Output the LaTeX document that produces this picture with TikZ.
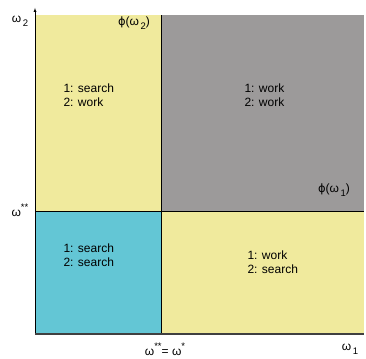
\documentclass[tikz,border=0pt]{standalone}
\usepackage{fontspec}
\setmainfont{Liberation Sans}
\newfontfamily\phifont{DejaVu Sans}
\usetikzlibrary{positioning,calc}
\definecolor{paleyellow}{RGB}{240,234,157}
\definecolor{paleblue}{RGB}{99,198,213}
\definecolor{midgray}{RGB}{156,154,154}
\newcommand{\lowsub}[1]{\raisebox{-0.6ex}{\fontsize{9.5}{10}\selectfont\,#1}}
\newcommand{\highsup}[1]{\raisebox{0.9ex}{\fontsize{9.5}{10}\selectfont #1}}
\newcommand{\phisym}{{\phifont\fontsize{11.5}{12}\selectfont ϕ}}

\begin{document}
\begin{tikzpicture}[x=1pt,y=1pt,
	every node/.style={font=\fontsize{12}{13.5}\selectfont},
	regionlabel/.style={align=left,anchor=west},
	axislabel/.style={inner sep=1pt}]
	\useasboundingbox (0,0) rectangle (366,358);
	\coordinate (o) at (35,24);
	\coordinate (top) at (35,343);
	\coordinate (tip) at (35,350);
	\coordinate (xend) at (364,24);
	\coordinate (c) at (161,147);
	\coordinate (ne) at (364,343);
	%
	\fill[paleblue] (o) rectangle (c);
	\fill[paleyellow] (o -| c) rectangle (c -| xend);
	\fill[paleyellow] (c -| o) rectangle (top -| c);
	\fill[midgray] (c) rectangle (ne);
	%
	\draw[thin] (c -| o) -- (c -| xend);
	\draw[thin] (o -| c) -- (top -| c);
	\draw[-latex] (o) -- (tip);
	\draw[line width=1.2pt,black!75] (o) -- (xend);
	%
	\node[regionlabel] (nw) at (60,263) {1: search\\2: work};
	\node[regionlabel] (ner) at (241,263) {1: work\\2: work};
	\node[regionlabel] (sw) at (60,103) {1: search\\2: search};
	\node[regionlabel] (se) at (244,96) {1: work\\2: search};
	%
	\node[axislabel] (w2) at (20,337) {ω\lowsub{2}};
	\node[axislabel] (phi2) at (134,335) {\phisym(ω\lowsub{2})};
	\node[axislabel] (wss) at (20,148) {ω\highsup{**}};
	\node[axislabel] (phi1) at (334,168) {\phisym(ω\lowsub{1})};
	\node[axislabel] (wstar) at (165,9) {ω\highsup{**}= ω\highsup{*}};
	\node[axislabel] (w1) at (350,9) {ω\lowsub{1}};
\end{tikzpicture}
\end{document}
